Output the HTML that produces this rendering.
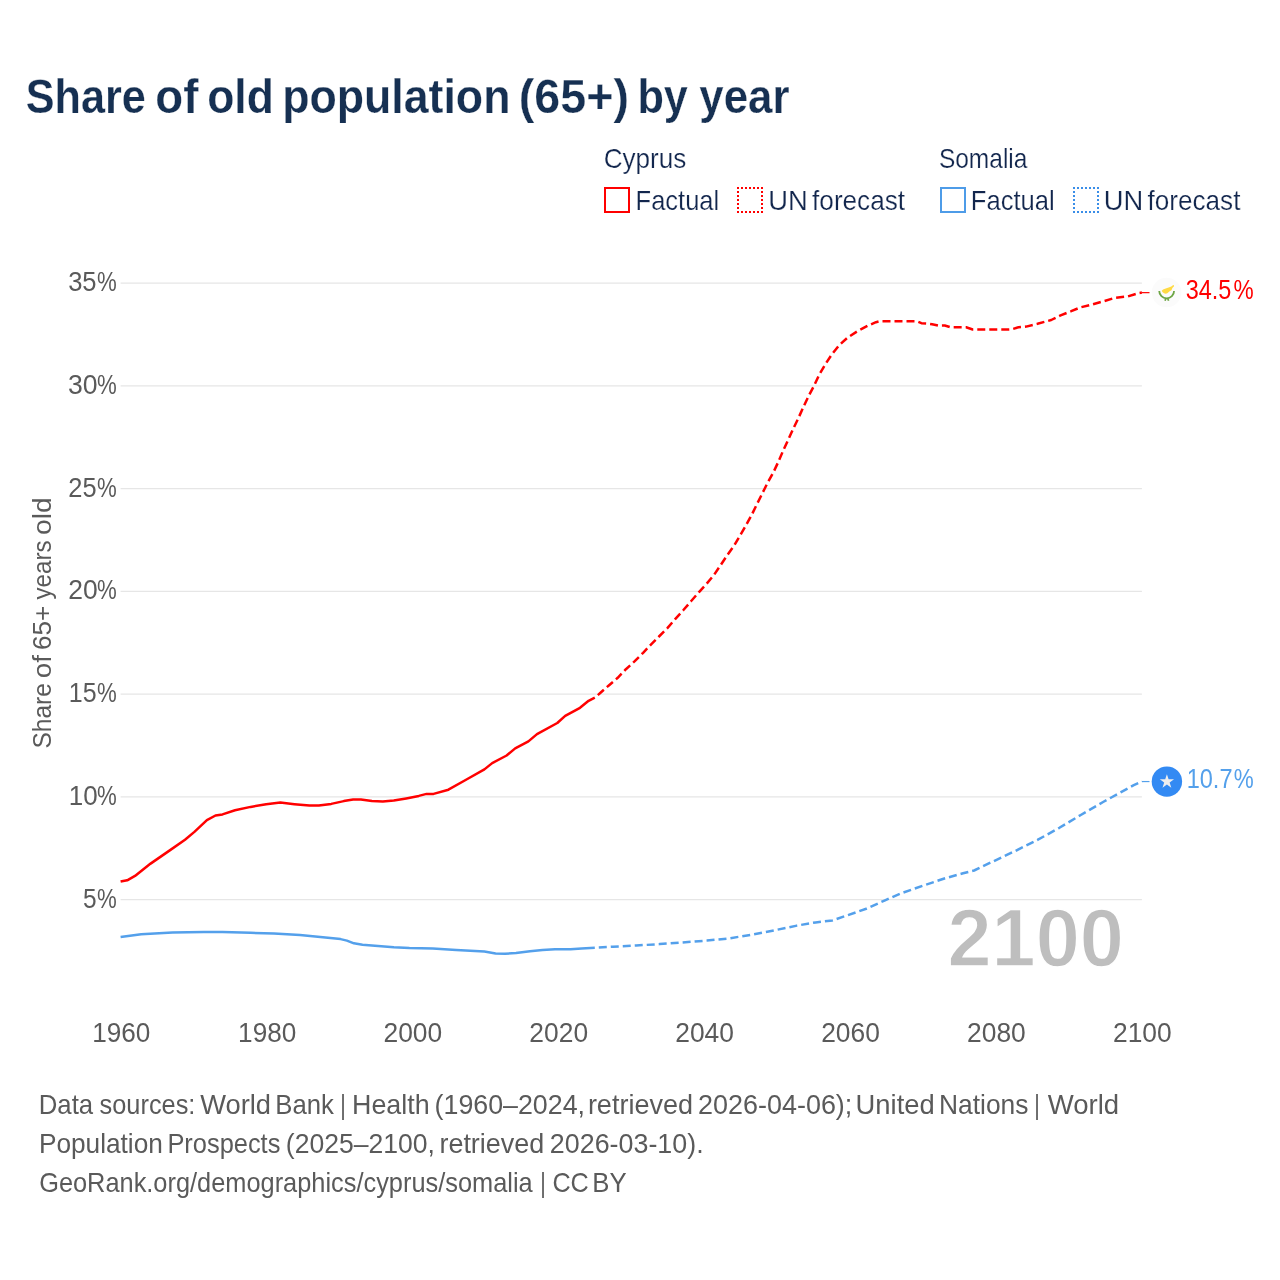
<!DOCTYPE html>
<html lang="en"><head><meta charset="utf-8"><title>Share of old population (65+) by year</title>
<style>html,body{margin:0;padding:0;background:#fff;overflow:hidden}svg{display:block}text{font-family:'Liberation Sans', sans-serif;white-space:pre}</style></head><body>
<svg width="1280" height="1280" viewBox="0 0 1280 1280">
<rect width="1280" height="1280" fill="#fff"/>
<g stroke="#e6e6e6" stroke-width="1.3">
<line x1="120.6" x2="1141.9" y1="283.05" y2="283.05"/>
<line x1="120.6" x2="1141.9" y1="385.80" y2="385.80"/>
<line x1="120.6" x2="1141.9" y1="488.55" y2="488.55"/>
<line x1="120.6" x2="1141.9" y1="591.30" y2="591.30"/>
<line x1="120.6" x2="1141.9" y1="694.05" y2="694.05"/>
<line x1="120.6" x2="1141.9" y1="796.80" y2="796.80"/>
<line x1="120.6" x2="1141.9" y1="899.55" y2="899.55"/>
</g>
<text transform="translate(0,966.20) scale(1,1.0268)" y="0" font-size="80" font-weight="700" fill="#bebebe" stroke="#fff" stroke-width="1.3"><tspan x="947.55" textLength="176.31" lengthAdjust="spacingAndGlyphs">2100</tspan></text>
<g fill="none" stroke-width="2.5" stroke-linejoin="round">
<polyline stroke="#54a0eb" points="120.6,936.9 141.2,934.2 172.5,932.5 203.8,931.9 222.5,932.0 250.6,932.8 274.0,933.4 300.0,935.0 320.3,937.0 340.6,939.1 346.9,940.6 353.9,943.3 362.5,944.7 378.1,945.9 393.8,947.2 409.4,948.1 432.8,948.6 456.2,950.0 484.4,951.6 495.6,953.4 505.0,953.8 516.0,953.1 530.0,951.2 542.5,950.0 555.0,949.2 570.6,949.2 581.6,948.4 594.8,947.8"/>
<polyline stroke="#54a0eb" stroke-dasharray="8 4" stroke-dashoffset="8" points="594.8,947.8 612.8,946.7 636.2,945.5 659.7,944.1 682.5,942.5 706.9,940.6 729.4,938.4 751.9,934.6 774.4,930.3 796.9,925.6 815.6,922.4 832.5,920.4 847.5,915.3 866.2,908.8 885.0,900.3 901.9,893.0 923.8,885.4 945.6,878.1 963.1,873.3 974.1,870.5 993.8,861.1 1015.6,850.8 1037.5,839.9 1059.4,827.8 1081.2,814.7 1103.1,802.0 1120.6,792.4 1133.8,785.2 1141.9,781.5"/>
<polyline stroke="#ff0000" points="120.6,881.6 127.2,880.3 135.0,875.9 150.6,863.6 169.4,850.6 185.0,839.7 194.4,831.9 206.9,820.2 215.5,815.5 222.5,814.4 235.0,810.3 250.6,806.9 266.2,804.2 280.3,802.6 294.4,804.2 309.4,805.6 318.8,805.5 331.2,803.9 343.8,801.1 353.1,799.4 360.9,799.5 371.9,801.1 382.8,801.6 393.8,800.6 406.2,798.4 418.8,795.9 426.6,793.9 433.6,793.9 448.4,789.7 465.6,780.0 484.4,769.4 492.2,763.1 506.6,755.5 515.2,748.4 528.4,741.4 537.0,734.1 557.3,723.0 565.2,715.9 580.0,707.8 588.6,700.8 594.8,697.7"/>
<polyline stroke="#ff0000" stroke-dasharray="8 4" stroke-dashoffset="8" points="594.8,697.7 600.2,693.0 609.1,685.2 617.7,677.8 625.9,669.2 634.5,661.4 643.1,652.8 650.9,644.6 659.0,636.5 667.6,627.9 675.4,618.9 683.2,610.3 691.0,601.3 698.8,592.3 706.6,583.8 714.1,574.8 720.7,565.0 727.3,555.2 734.4,545.1 740.0,535.6 745.9,525.5 751.7,514.9 756.8,504.4 762.3,493.4 767.3,483.3 773.5,472.2 778.6,461.2 783.3,450.3 788.4,439.4 793.4,428.4 798.5,417.9 803.6,406.6 808.4,396.4 814.1,385.6 819.1,375.0 825.0,364.8 831.6,354.7 839.1,345.3 847.7,337.5 857.4,331.2 867.6,325.8 876.0,322.2 880.0,321.2 916.8,321.3 921.4,323.2 926.5,323.5 932.1,324.2 938.7,325.6 944.8,325.5 950.4,327.2 966.1,327.2 972.7,329.5 1007.7,329.5 1011.8,329.3 1018.4,327.3 1026.2,326.6 1037.5,323.8 1051.2,320.0 1060.0,315.6 1071.2,311.2 1080.0,307.5 1092.5,304.4 1103.8,301.2 1115.0,297.8 1127.5,296.5 1138.8,293.1 1141.9,292.6"/>
</g>
<line x1="1141.9" x2="1149.5" y1="292.65" y2="292.65" stroke="#ff0000" stroke-width="1.2"/>
<line x1="1141.9" x2="1149.5" y1="781.55" y2="781.55" stroke="#54a0eb" stroke-width="1.2"/>
<g>
<circle cx="1166.6" cy="292.5" r="14.8" fill="#fbfbfb"/>
<path d="M1161.75 290.70 L1163.06 289.39 L1165.69 288.40 L1168.64 287.42 L1171.26 286.44 L1173.23 284.96 L1174.05 285.45 L1173.89 286.60 L1172.57 287.75 L1171.92 289.06 L1171.59 290.37 L1169.62 291.36 L1167.33 293.33 L1165.69 293.82 L1164.04 293.33 L1162.40 292.01 Z" fill="#ffda44"/>
<path d="M1159.25 291 A7.4 7.4 0 0 0 1174.05 291" fill="none" stroke="#6da544" stroke-width="1.8"/>
<path d="M1165.8 298.2 L1165.1 300.7 M1167.6 298.2 L1168.6 300.7" fill="none" stroke="#6da544" stroke-width="1.7"/>
</g>
<g>
<circle cx="1166.9" cy="781.6" r="15.2" fill="#338af3"/>
<path fill="#eeeeee" d="M1166.90 774.15 L1168.58 779.33 L1174.03 779.33 L1169.62 782.54 L1171.31 787.72 L1166.90 784.51 L1162.49 787.72 L1164.18 782.54 L1159.77 779.33 L1165.22 779.33 Z"/>
</g>

<rect x="605" y="188" width="24" height="24" fill="none" stroke="#ff0000" stroke-width="2"/>
<g stroke="#ff0000" stroke-width="2" stroke-dasharray="2 2"><line x1="737" x2="763" y1="188" y2="188"/><line x1="737" x2="763" y1="212" y2="212"/><line x1="738" x2="738" y1="187" y2="213"/><line x1="762" x2="762" y1="187" y2="213"/></g>
<rect x="941" y="188" width="24" height="24" fill="none" stroke="#4e9ce8" stroke-width="2"/>
<g stroke="#3a8ee8" stroke-width="2" stroke-dasharray="2 2"><line x1="1073" x2="1099" y1="188" y2="188"/><line x1="1073" x2="1099" y1="212" y2="212"/><line x1="1074" x2="1074" y1="187" y2="213"/><line x1="1098" x2="1098" y1="187" y2="213"/></g>
<text transform="translate(0,112.60) scale(1,1.0000)" y="0" font-size="48" font-weight="700" fill="#163052" stroke="#fff" stroke-width="0.25"><tspan x="25.65" textLength="120.14" lengthAdjust="spacingAndGlyphs">Share</tspan> <tspan x="155.28" textLength="43.06" lengthAdjust="spacingAndGlyphs">of</tspan> <tspan x="207.13" textLength="66.67" lengthAdjust="spacingAndGlyphs">old</tspan> <tspan x="282.20" textLength="228.24" lengthAdjust="spacingAndGlyphs">population</tspan> <tspan x="518.85" textLength="110.11" lengthAdjust="spacingAndGlyphs">(65+)</tspan> <tspan x="637.39" textLength="50.48" lengthAdjust="spacingAndGlyphs">by</tspan> <tspan x="699.37" textLength="90.18" lengthAdjust="spacingAndGlyphs">year</tspan></text>
<text transform="translate(0,167.60) scale(1,1.0450)" y="0" font-size="26" font-weight="400" fill="#12264d" stroke="#fff" stroke-width="0.2"><tspan x="603.70" textLength="82.65" lengthAdjust="spacingAndGlyphs">Cyprus</tspan></text>
<text transform="translate(0,209.90) scale(1,1.0450)" y="0" font-size="26" font-weight="400" fill="#12264d" stroke="#fff" stroke-width="0.2"><tspan x="635.58" textLength="83.63" lengthAdjust="spacingAndGlyphs">Factual</tspan></text>
<text transform="translate(0,209.90) scale(1,1.0450)" y="0" font-size="26" font-weight="400" fill="#12264d" stroke="#fff" stroke-width="0.2"><tspan x="768.20" textLength="39.47" lengthAdjust="spacingAndGlyphs">UN</tspan> <tspan x="812.11" textLength="92.92" lengthAdjust="spacingAndGlyphs">forecast</tspan></text>
<text transform="translate(0,167.60) scale(1,1.0450)" y="0" font-size="26" font-weight="400" fill="#12264d" stroke="#fff" stroke-width="0.2"><tspan x="938.90" textLength="88.51" lengthAdjust="spacingAndGlyphs">Somalia</tspan></text>
<text transform="translate(0,209.90) scale(1,1.0450)" y="0" font-size="26" font-weight="400" fill="#12264d" stroke="#fff" stroke-width="0.2"><tspan x="970.88" textLength="83.84" lengthAdjust="spacingAndGlyphs">Factual</tspan></text>
<text transform="translate(0,209.90) scale(1,1.0450)" y="0" font-size="26" font-weight="400" fill="#12264d" stroke="#fff" stroke-width="0.2"><tspan x="1103.70" textLength="39.47" lengthAdjust="spacingAndGlyphs">UN</tspan> <tspan x="1147.61" textLength="92.82" lengthAdjust="spacingAndGlyphs">forecast</tspan></text>
<text transform="translate(0,290.90) scale(1,1.0556)" y="0" font-size="26" font-weight="400" fill="#5a5a5a"><tspan x="68.14" textLength="28.47" lengthAdjust="spacingAndGlyphs">35</tspan><tspan x="97.09" textLength="19.74" lengthAdjust="spacingAndGlyphs">%</tspan></text>
<text transform="translate(0,393.70) scale(1,1.0556)" y="0" font-size="26" font-weight="400" fill="#5a5a5a"><tspan x="68.09" textLength="29.60" lengthAdjust="spacingAndGlyphs">30</tspan><tspan x="97.09" textLength="19.74" lengthAdjust="spacingAndGlyphs">%</tspan></text>
<text transform="translate(0,496.50) scale(1,1.0556)" y="0" font-size="26" font-weight="400" fill="#5a5a5a"><tspan x="68.30" textLength="28.31" lengthAdjust="spacingAndGlyphs">25</tspan><tspan x="97.09" textLength="19.74" lengthAdjust="spacingAndGlyphs">%</tspan></text>
<text transform="translate(0,599.30) scale(1,1.0556)" y="0" font-size="26" font-weight="400" fill="#5a5a5a"><tspan x="68.25" textLength="29.43" lengthAdjust="spacingAndGlyphs">20</tspan><tspan x="97.09" textLength="19.74" lengthAdjust="spacingAndGlyphs">%</tspan></text>
<text transform="translate(0,702.10) scale(1,1.0556)" y="0" font-size="26" font-weight="400" fill="#5a5a5a"><tspan x="68.78" textLength="27.81" lengthAdjust="spacingAndGlyphs">15</tspan><tspan x="97.09" textLength="19.74" lengthAdjust="spacingAndGlyphs">%</tspan></text>
<text transform="translate(0,804.90) scale(1,1.0556)" y="0" font-size="26" font-weight="400" fill="#5a5a5a"><tspan x="68.75" textLength="28.91" lengthAdjust="spacingAndGlyphs">10</tspan><tspan x="97.09" textLength="19.74" lengthAdjust="spacingAndGlyphs">%</tspan></text>
<text transform="translate(0,907.70) scale(1,1.0556)" y="0" font-size="26" font-weight="400" fill="#5a5a5a"><tspan x="82.97" textLength="13.62" lengthAdjust="spacingAndGlyphs">5</tspan><tspan x="97.09" textLength="19.74" lengthAdjust="spacingAndGlyphs">%</tspan></text>
<text transform="translate(0,1041.90) scale(1,1.0444)" y="0" font-size="26" font-weight="400" fill="#5a5a5a"><tspan x="92.19" textLength="58.20" lengthAdjust="spacingAndGlyphs">1960</tspan></text>
<text transform="translate(0,1041.90) scale(1,1.0444)" y="0" font-size="26" font-weight="400" fill="#5a5a5a"><tspan x="238.09" textLength="58.20" lengthAdjust="spacingAndGlyphs">1980</tspan></text>
<text transform="translate(0,1041.90) scale(1,1.0444)" y="0" font-size="26" font-weight="400" fill="#5a5a5a"><tspan x="383.45" textLength="58.75" lengthAdjust="spacingAndGlyphs">2000</tspan></text>
<text transform="translate(0,1041.90) scale(1,1.0444)" y="0" font-size="26" font-weight="400" fill="#5a5a5a"><tspan x="529.35" textLength="58.75" lengthAdjust="spacingAndGlyphs">2020</tspan></text>
<text transform="translate(0,1041.90) scale(1,1.0444)" y="0" font-size="26" font-weight="400" fill="#5a5a5a"><tspan x="675.25" textLength="58.75" lengthAdjust="spacingAndGlyphs">2040</tspan></text>
<text transform="translate(0,1041.90) scale(1,1.0444)" y="0" font-size="26" font-weight="400" fill="#5a5a5a"><tspan x="821.15" textLength="58.75" lengthAdjust="spacingAndGlyphs">2060</tspan></text>
<text transform="translate(0,1041.90) scale(1,1.0444)" y="0" font-size="26" font-weight="400" fill="#5a5a5a"><tspan x="967.05" textLength="58.75" lengthAdjust="spacingAndGlyphs">2080</tspan></text>
<text transform="translate(0,1041.90) scale(1,1.0444)" y="0" font-size="26" font-weight="400" fill="#5a5a5a"><tspan x="1112.95" textLength="58.75" lengthAdjust="spacingAndGlyphs">2100</tspan></text>
<text transform="translate(0,298.70) scale(1,1.0389)" y="0" font-size="26" font-weight="400" fill="#ff0000"><tspan x="1185.74" textLength="45.61" lengthAdjust="spacingAndGlyphs">34.5</tspan><tspan x="1233.57" textLength="20.18" lengthAdjust="spacingAndGlyphs">%</tspan></text>
<text transform="translate(0,788.00) scale(1,1.0444)" y="0" font-size="26" font-weight="400" fill="#54a0eb"><tspan x="1186.69" textLength="45.80" lengthAdjust="spacingAndGlyphs">10.7</tspan><tspan x="1233.78" textLength="19.96" lengthAdjust="spacingAndGlyphs">%</tspan></text>
<text transform="translate(0,1113.70) scale(1,1.0450)" y="0" font-size="26" font-weight="400" fill="#5a5a5a"><tspan x="38.76" textLength="54.33" lengthAdjust="spacingAndGlyphs">Data</tspan> <tspan x="99.61" textLength="95.77" lengthAdjust="spacingAndGlyphs">sources:</tspan> <tspan x="200.21" textLength="70.84" lengthAdjust="spacingAndGlyphs">World</tspan> <tspan x="275.36" textLength="58.60" lengthAdjust="spacingAndGlyphs">Bank</tspan> <tspan x="340.28" textLength="5.53" lengthAdjust="spacingAndGlyphs">|</tspan> <tspan x="352.02" textLength="77.69" lengthAdjust="spacingAndGlyphs">Health</tspan> <tspan x="434.57" textLength="150.41" lengthAdjust="spacingAndGlyphs">(1960–2024,</tspan> <tspan x="587.88" textLength="105.11" lengthAdjust="spacingAndGlyphs">retrieved</tspan> <tspan x="698.12" textLength="154.22" lengthAdjust="spacingAndGlyphs">2026-04-06);</tspan> <tspan x="855.59" textLength="79.17" lengthAdjust="spacingAndGlyphs">United</tspan> <tspan x="939.06" textLength="89.40" lengthAdjust="spacingAndGlyphs">Nations</tspan> <tspan x="1034.28" textLength="5.53" lengthAdjust="spacingAndGlyphs">|</tspan> <tspan x="1047.71" textLength="71.40" lengthAdjust="spacingAndGlyphs">World</tspan></text>
<text transform="translate(0,1152.70) scale(1,1.0450)" y="0" font-size="26" font-weight="400" fill="#5a5a5a"><tspan x="38.92" textLength="123.97" lengthAdjust="spacingAndGlyphs">Population</tspan> <tspan x="167.39" textLength="112.99" lengthAdjust="spacingAndGlyphs">Prospects</tspan> <tspan x="285.83" textLength="149.12" lengthAdjust="spacingAndGlyphs">(2025–2100,</tspan> <tspan x="439.43" textLength="104.80" lengthAdjust="spacingAndGlyphs">retrieved</tspan> <tspan x="549.88" textLength="153.76" lengthAdjust="spacingAndGlyphs">2026-03-10).</tspan></text>
<text transform="translate(0,1191.70) scale(1,1.0450)" y="0" font-size="26" font-weight="400" fill="#5a5a5a"><tspan x="39.15" textLength="493.56" lengthAdjust="spacingAndGlyphs">GeoRank.org/demographics/cyprus/somalia</tspan> <tspan x="540.28" textLength="5.53" lengthAdjust="spacingAndGlyphs">|</tspan> <tspan x="552.40" textLength="36.36" lengthAdjust="spacingAndGlyphs">CC</tspan> <tspan x="592.36" textLength="34.33" lengthAdjust="spacingAndGlyphs">BY</tspan></text>
<text transform="translate(50.80,0) rotate(-90) scale(1,1.0000)" y="0" font-size="26" font-weight="400" fill="#5a5a5a"><tspan x="-748.61" textLength="65.57" lengthAdjust="spacingAndGlyphs">Share</tspan> <tspan x="-678.24" textLength="23.08" lengthAdjust="spacingAndGlyphs">of</tspan> <tspan x="-649.97" textLength="44.30" lengthAdjust="spacingAndGlyphs">65+</tspan> <tspan x="-599.46" textLength="59.00" lengthAdjust="spacingAndGlyphs">years</tspan> <tspan x="-535.06" textLength="37.63" lengthAdjust="spacingAndGlyphs">old</tspan></text>
</svg></body></html>
